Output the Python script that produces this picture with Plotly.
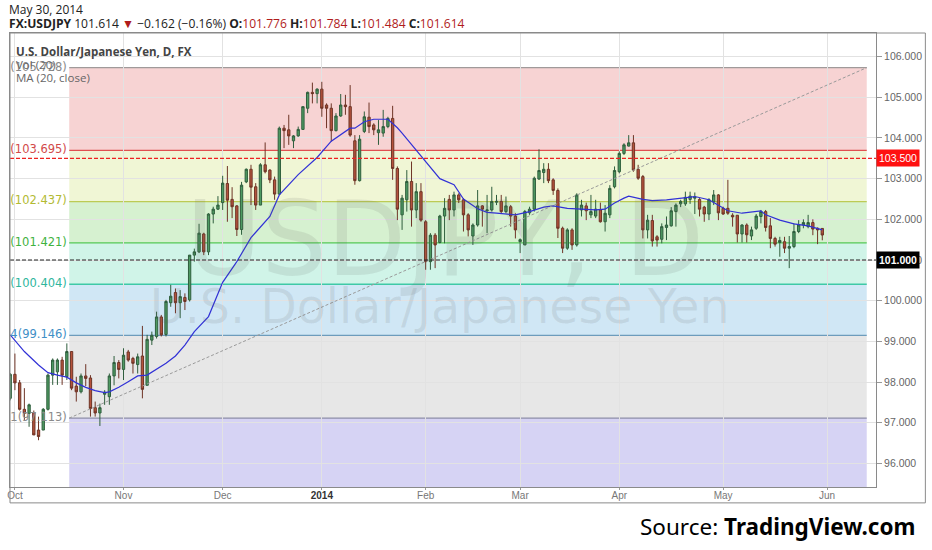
import pandas as pd
import plotly.graph_objects as go

# daily bars, Sep 30 2013 .. May 30 2014 (FX: no bars on Dec 25 / Jan 1)
first_day = "2013-09-30"
last_day = "2014-05-30"
holidays = ["2013-12-25", "2014-01-01"]

opens = [
    # Sep 30 / Oct
    97.60, 98.19, 97.98, 97.33, 97.23, 97.25, 96.82, 96.82, 97.33, 98.17, 98.25, 98.54,
    98.13, 98.75, 97.90, 97.76, 98.15, 98.10, 97.37, 97.24, 97.70, 97.64, 98.15, 98.48,
    # Nov
    98.31, 98.74, 98.58, 98.43, 98.64, 97.92, 99.03, 99.12, 99.60, 99.17, 99.95, 100.20,
    99.95, 100.08, 100.02, 101.12, 101.20, 101.64, 101.20, 102.13, 102.25,
    # Dec
    102.41, 102.88, 102.49, 102.33, 101.75, 102.92, 103.23, 102.80, 102.35, 103.34, 103.21,
    102.97, 102.62, 104.24, 104.20, 103.93, 104.05, 104.21, 104.73, 105.12, 105.09,
    # Jan
    105.20, 104.81, 104.73, 104.18, 104.54, 104.81, 104.77, 103.93, 102.95, 104.16, 104.51,
    104.32, 104.13, 104.12, 104.28, 104.48, 103.25, 102.11, 102.48, 102.93, 102.23, 102.68,
    # Feb
    101.94, 100.96, 101.61, 101.43, 102.08, 102.49, 102.23, 102.60, 102.48, 102.11,
    101.59, 101.86, 102.33, 102.21, 102.23, 102.42, 102.44, 102.19, 102.31, 102.08,
    # Mar
    101.45, 101.37, 102.16, 102.25, 102.99, 103.15, 103.23, 102.97, 102.71, 101.78, 101.29,
    101.74, 101.37, 102.23, 102.33, 102.11, 102.08, 102.23, 101.94, 102.11, 102.80,
    # Apr
    103.17, 103.62, 103.80, 103.88, 103.23, 103.05, 101.74, 101.97, 101.57, 101.51, 101.80,
    101.84, 102.19, 102.38, 102.38, 102.49, 102.52, 102.49, 102.30, 102.13, 102.43, 102.60,
    # May
    102.27, 102.27, 102.10, 102.10, 101.64, 101.86, 101.59, 101.78, 102.07, 102.19, 101.84,
    101.53, 101.43, 101.45, 101.29, 101.33, 101.70, 101.86, 101.82, 101.92, 101.78, 101.776,
]
highs = [
    98.22, 98.70, 98.05, 97.85, 97.47, 97.30, 97.15, 97.36, 98.21, 98.58, 98.58, 98.62,
    98.95, 98.75, 98.13, 98.21, 98.44, 98.17, 97.52, 97.47, 97.80, 98.21, 98.64, 98.54,
    98.83, 98.79, 98.62, 98.70, 99.38, 99.16, 99.24, 99.73, 99.65, 100.02, 100.39, 100.30,
    100.26, 100.18, 101.12, 101.28, 101.89, 101.67, 102.15, 102.31, 102.57,
    103.07, 103.31, 102.79, 102.35, 102.92, 103.25, 103.34, 102.89, 103.38, 103.89, 103.23,
    103.05, 104.28, 104.32, 104.57, 104.07, 104.28, 104.77, 105.14, 105.36, 105.22,
    105.38, 104.85, 104.85, 104.61, 105.08, 105.06, 105.30, 104.07, 104.07, 104.65, 104.87,
    104.36, 104.44, 104.69, 104.52, 104.79, 103.30, 102.60, 103.21, 103.42, 102.89, 102.89,
    101.98, 101.66, 101.66, 102.11, 102.52, 102.60, 102.68, 102.64, 102.52, 102.15,
    101.90, 102.72, 102.35, 102.60, 102.80, 102.60, 102.60, 102.56, 102.35, 102.15,
    101.53, 102.23, 102.31, 103.05, 103.72, 103.38, 103.38, 103.01, 102.76, 101.82, 101.78,
    101.78, 102.64, 102.48, 102.41, 102.60, 102.48, 102.41, 102.35, 102.84, 103.30,
    103.67, 103.87, 104.07, 104.07, 103.34, 103.09, 102.11, 102.11, 101.61, 101.90, 102.07,
    102.30, 102.39, 102.48, 102.68, 102.68, 102.66, 102.52, 102.33, 102.52, 102.72, 102.62,
    102.31, 102.97, 102.15, 102.10, 101.88, 101.90, 101.82, 102.13, 102.23, 102.23, 102.03,
    101.57, 101.57, 101.57, 101.59, 101.90, 101.98, 102.00, 102.11, 102.00, 101.80, 101.784,
]
lows = [
    97.55, 97.80, 97.30, 97.07, 96.90, 96.70, 96.57, 96.82, 97.30, 97.93, 97.93, 97.93,
    98.05, 97.80, 97.52, 97.72, 97.90, 97.15, 97.15, 96.92, 97.44, 97.44, 97.92, 98.09,
    98.05, 98.50, 98.21, 98.21, 97.60, 97.92, 98.91, 99.07, 99.12, 99.12, 99.85, 99.69,
    99.57, 99.77, 99.98, 100.96, 101.17, 101.12, 101.12, 101.90, 102.23,
    102.23, 101.94, 102.03, 101.59, 101.62, 102.89, 102.35, 102.23, 102.35, 103.13, 102.89,
    102.48, 102.60, 103.75, 103.83, 103.75, 104.03, 104.20, 104.61, 104.85, 104.85,
    104.52, 104.24, 103.91, 104.16, 104.52, 104.57, 104.03, 102.85, 102.93, 104.12, 104.12,
    104.07, 103.83, 104.03, 104.24, 102.97, 101.98, 101.74, 102.19, 101.82, 102.03, 101.94,
    100.76, 100.76, 100.80, 101.41, 101.41, 101.98, 102.07, 102.40, 101.70, 101.58,
    101.37, 101.82, 101.82, 101.66, 102.19, 102.35, 102.15, 102.15, 101.82, 101.53,
    101.17, 101.37, 102.11, 102.19, 102.97, 102.89, 102.89, 102.60, 101.54, 101.17, 101.25,
    101.25, 101.33, 102.07, 101.98, 102.03, 102.03, 101.92, 101.70, 102.03, 102.76,
    103.13, 103.58, 103.79, 103.17, 102.97, 101.53, 101.53, 101.33, 101.33, 101.41, 101.49,
    101.82, 101.82, 102.30, 102.33, 102.38, 102.13, 102.07, 101.94, 101.98, 102.35, 101.98,
    102.11, 102.11, 101.82, 101.43, 101.43, 101.43, 101.49, 101.74, 101.90, 101.70, 101.29,
    101.33, 101.08, 101.17, 100.80, 101.29, 101.66, 101.78, 101.78, 101.61, 101.39, 101.484,
]
closes = [
    98.19, 97.98, 97.33, 97.23, 97.44, 96.70, 96.66, 97.33, 98.17, 98.54, 98.54, 98.17,
    98.75, 97.85, 97.76, 98.15, 98.09, 97.35, 97.24, 97.37, 97.75, 98.15, 98.48, 98.31,
    98.66, 98.54, 98.46, 98.62, 97.82, 99.05, 99.15, 99.60, 99.16, 99.98, 100.11, 99.95,
    100.10, 99.98, 101.12, 101.20, 101.66, 101.20, 102.13, 102.25, 102.35,
    102.89, 102.47, 102.31, 101.75, 102.84, 103.23, 102.79, 102.35, 103.34, 103.17, 102.97,
    102.62, 104.24, 104.18, 104.05, 104.05, 104.21, 104.77, 105.12, 105.09, 105.20,
    104.73, 104.73, 104.18, 104.54, 104.81, 104.77, 104.07, 102.95, 103.97, 104.52, 104.28,
    104.20, 104.20, 104.28, 104.48, 103.25, 102.25, 102.52, 102.93, 102.23, 102.68, 101.98,
    100.96, 101.61, 101.37, 102.08, 102.27, 102.23, 102.60, 102.48, 102.11, 101.74,
    101.86, 102.33, 102.25, 102.23, 102.44, 102.44, 102.19, 102.33, 102.08, 101.74,
    101.50, 102.19, 102.25, 103.01, 103.20, 103.23, 102.95, 102.71, 101.78, 101.29, 101.74,
    101.37, 102.60, 102.35, 102.21, 102.19, 102.25, 101.94, 102.15, 102.76, 103.20,
    103.62, 103.83, 103.88, 103.21, 103.01, 101.74, 101.98, 101.47, 101.49, 101.82, 101.86,
    102.21, 102.35, 102.44, 102.54, 102.57, 102.55, 102.25, 102.13, 102.48, 102.60, 102.16,
    102.13, 102.15, 102.06, 101.64, 101.86, 101.62, 101.74, 102.08, 102.19, 101.80, 101.53,
    101.39, 101.48, 101.29, 101.33, 101.70, 101.86, 101.92, 101.92, 101.76, 101.74, 101.614,
]

# MA (20, close)
ma_dates = [
    "2013-09-30", "2013-10-03", "2013-10-08", "2013-10-10", "2013-10-14", "2013-10-16",
    "2013-10-18", "2013-10-22", "2013-10-24", "2013-10-28", "2013-10-29", "2013-10-31",
    "2013-11-04", "2013-11-06", "2013-11-08", "2013-11-12", "2013-11-14", "2013-11-18",
    "2013-11-20", "2013-11-22", "2013-11-27", "2013-12-02", "2013-12-05", "2013-12-10",
    "2013-12-16", "2013-12-18", "2013-12-24", "2013-12-31", "2014-01-06", "2014-01-10",
    "2014-01-13", "2014-01-15", "2014-01-17", "2014-01-22", "2014-01-24", "2014-01-27",
    "2014-01-30", "2014-02-04", "2014-02-06", "2014-02-11", "2014-02-13", "2014-02-18",
    "2014-02-20", "2014-02-24", "2014-02-28", "2014-03-05", "2014-03-10", "2014-03-12",
    "2014-03-17", "2014-03-20", "2014-03-25", "2014-03-27", "2014-03-31", "2014-04-02",
    "2014-04-03", "2014-04-08", "2014-04-10", "2014-04-15", "2014-04-18", "2014-04-23",
    "2014-04-28", "2014-04-30", "2014-05-02", "2014-05-07", "2014-05-13", "2014-05-14",
    "2014-05-19", "2014-05-22", "2014-05-27", "2014-05-30",
]
ma_values = [
    99.16, 98.75, 98.42, 98.23, 98.17, 98.12,
    97.98, 97.87, 97.79, 97.74, 97.76, 97.87,
    98.01, 98.15, 98.17, 98.31, 98.46, 98.64,
    98.91, 99.24, 99.61, 100.45, 100.96, 101.55,
    102.07, 102.60, 103.10, 103.52, 103.92, 104.24,
    104.24, 104.40, 104.46, 104.46, 104.25, 104.12,
    103.71, 103.30, 103.00, 102.85, 102.50, 102.26,
    102.17, 102.15, 102.11, 102.19, 102.30, 102.33,
    102.27, 102.25, 102.23, 102.25, 102.40, 102.52,
    102.57, 102.49, 102.46, 102.48, 102.52, 102.56,
    102.48, 102.35, 102.21, 102.15, 102.21, 102.11,
    101.98, 101.89, 101.84, 101.74,
]

# fibonacci retracement drawn on the chart
fib_start = "2013-10-16 12:00"
fib_end = "2014-06-12 10:00"
fib_label_x = "2013-10-16 00:00"
fib_ratios = ["0", "0.236", "0.382", "0.5", "0.618", "0.764", "1"]
fib_levels = [105.728, 103.695, 102.437, 101.421, 100.404, 99.146, 97.113]
fib_floor = 95.08
fib_line_colors = ["#a09a9a", "#e05050", "#bccb55", "#55c855", "#3fc9a6", "#6d9cbc", "#8d8da8"]
fib_text_colors = ["#8a8a8a", "#d24a4a", "#b2ba33", "#3fb23f", "#2fb69d", "#3f8fc6", "#8a8a8a"]
fib_fills = [
    "rgba(228,110,110,0.30)", "rgba(200,220,100,0.27)", "rgba(120,210,100,0.30)",
    "rgba(100,220,180,0.30)", "rgba(110,180,225,0.32)", "rgba(150,150,150,0.23)",
    "rgba(120,110,220,0.30)",
]

red_level = 103.5
black_level = 101.0

tick_dates = ["2013-10-01", "2013-11-01", "2013-12-02", "2014-01-02", "2014-02-03",
              "2014-03-03", "2014-04-01", "2014-05-01", "2014-06-02"]
tick_text = ["Oct", "Nov", "Dec", "<b><span style='color:#333'>2014</span></b>", "Feb",
             "Mar", "Apr", "May", "Jun"]

dates = [d for d in pd.bdate_range(first_day, last_day) if d.strftime("%Y-%m-%d") not in holidays]

fig = go.Figure()

fig.add_trace(go.Candlestick(
    x=dates, open=opens, high=highs, low=lows, close=closes,
    increasing=dict(fillcolor="#4e9a62", line=dict(color="#2f5e3d", width=1)),
    decreasing=dict(fillcolor="#b5533c", line=dict(color="#6e3426", width=1)),
    whiskerwidth=0, hoverinfo="skip", showlegend=False,
))

fig.add_trace(go.Scatter(
    x=ma_dates, y=ma_values, mode="lines",
    line=dict(color="#3131d6", width=1.2), hoverinfo="skip", showlegend=False,
))

# fib level labels, clipped by the plot's left edge
fig.add_trace(go.Scatter(
    x=[fib_label_x] * len(fib_levels), y=fib_levels, mode="text",
    text=[f"{r}({v:.3f})" for r, v in zip(fib_ratios, fib_levels)],
    textposition="middle left",
    textfont=dict(family="DejaVu Sans", size=11.5, color=fib_text_colors),
    cliponaxis=True, hoverinfo="skip", showlegend=False,
))

shapes = []
bands = fib_levels + [fib_floor]
for i in range(len(fib_levels)):
    shapes.append(dict(type="rect", xref="x", yref="y", x0=fib_start, x1=fib_end,
                       y0=bands[i + 1], y1=bands[i], fillcolor=fib_fills[i],
                       line=dict(width=0), layer="below"))
for lvl, col in zip(fib_levels, fib_line_colors):
    shapes.append(dict(type="line", xref="x", yref="y", x0=fib_start, x1=fib_end,
                       y0=lvl, y1=lvl, line=dict(color=col, width=1.3), layer="below"))
# trend line of the fib
shapes.append(dict(type="line", xref="x", yref="y", x0=fib_start, x1=fib_end,
                   y0=fib_levels[-1], y1=fib_levels[0],
                   line=dict(color="#9a9a9a", width=1, dash="3px,2px")))
# horizontal alert lines
shapes.append(dict(type="line", xref="paper", yref="y", x0=0, x1=1, y0=red_level, y1=red_level,
                   line=dict(color="#ee2222", width=1.2, dash="4px,2px")))
shapes.append(dict(type="line", xref="paper", yref="y", x0=0, x1=1, y0=black_level, y1=black_level,
                   line=dict(color="#222222", width=1.2, dash="4px,2px")))
# outer frame around chart + axes
shapes.append(dict(type="rect", xref="paper", yref="paper", x0=0, x1=1.057, y0=-0.035, y1=1,
                   line=dict(color="#8a8a8a", width=1), fillcolor="rgba(0,0,0,0)"))

annotations = [
    # watermark
    dict(text="USDJPY, D", xref="paper", yref="paper", x=0.502, y=0.546, showarrow=False,
         font=dict(family="DejaVu Sans", size=103, color="rgba(90,90,90,0.12)")),
    dict(text="U.S. Dollar/Japanese Yen", xref="paper", yref="paper", x=0.496, y=0.397,
         showarrow=False, font=dict(family="DejaVu Sans", size=47.5, color="rgba(90,90,90,0.12)")),
    # pane legend
    dict(text="<b>U.S. Dollar/Japanese Yen, D, FX</b>", xref="paper", yref="paper",
         x=0.008, y=0.959, xanchor="left", yanchor="middle", xshift=-3, showarrow=False,
         font=dict(family="Open Sans", size=11.5, color="#444")),
    dict(text="Vol (20)", xref="paper", yref="paper", x=0.008, y=0.930, xanchor="left",
         yanchor="middle", xshift=-3, showarrow=False,
         font=dict(family="Open Sans", size=11.5, color="#666")),
    dict(text="MA (20, close)", xref="paper", yref="paper", x=0.008, y=0.901, xanchor="left",
         yanchor="middle", xshift=-3, showarrow=False,
         font=dict(family="Open Sans", size=11.5, color="#666")),
    # header
    dict(text="May 30, 2014", xref="paper", yref="paper", x=0, y=1.051, xanchor="left",
         yanchor="middle", xshift=-3, showarrow=False,
         font=dict(family="Open Sans", size=12, color="#222")),
    dict(text="<b>FX:USDJPY</b> 101.614 <span style='color:#b01c1c'>▼</span> −0.162 (−0.16%) "
              "<b>O:</b><span style='color:#b01c1c'>101.776</span> "
              "<b>H:</b><span style='color:#b01c1c'>101.784</span> "
              "<b>L:</b><span style='color:#b01c1c'>101.484</span> "
              "<b>C:</b><span style='color:#b01c1c'>101.614</span>",
         xref="paper", yref="paper", x=0, y=1.022, xanchor="left", yanchor="middle",
         xshift=-3, showarrow=False, font=dict(family="Open Sans", size=12.1, color="#222")),
    # price labels on the axis
    dict(text="103.500", xref="paper", yref="y", x=1, y=red_level, xanchor="left", xshift=0,
         showarrow=False, bgcolor="#ff1010", borderpad=2,
         font=dict(family="Liberation Sans", size=10.5, color="white")),
    dict(text="<b>101.000</b>", xref="paper", yref="y", x=1, y=black_level, xanchor="left",
         xshift=0, showarrow=False, bgcolor="#000000", borderpad=2,
         font=dict(family="Liberation Sans", size=10.5, color="white")),
    # source
    dict(text="Source: <b>TradingView.com</b>", xref="paper", yref="paper", x=1.047, y=-0.088,
         xanchor="right", yanchor="middle", showarrow=False,
         font=dict(family="Noto Sans", size=22.5, color="#000")),
]

fig.update_layout(
    width=932, height=550,
    margin=dict(l=7, r=56, t=33, b=63),
    paper_bgcolor="white", plot_bgcolor="white",
    shapes=shapes, annotations=annotations,
    showlegend=False, hovermode=False,
    xaxis=dict(
        type="date",
        range=["2013-09-27 23:00", "2014-06-16 09:00"],
        rangebreaks=[dict(bounds=["sat", "mon"]), dict(values=holidays)],
        rangeslider=dict(visible=False),
        tickvals=tick_dates, ticktext=tick_text,
        ticks="outside", ticklen=2, tickcolor="#999",
        ticklabeloverflow="allow", ticklabelstandoff=-3,
        tickfont=dict(family="Liberation Sans", size=10, color="#777"),
        showgrid=True, gridcolor="#e2e2e2", gridwidth=1,
        showline=True, linecolor="#8a8a8a", mirror=True, zeroline=False,
    ),
    yaxis=dict(
        side="right",
        range=[95.42, 106.58],
        tickvals=[96, 97, 98, 99, 100, 101, 102, 103, 104, 105, 106],
        tickformat=".3f",
        ticks="outside", ticklen=5, tickcolor="#999",
        tickfont=dict(family="Liberation Sans", size=10.5, color="#666"),
        showgrid=True, gridcolor="#e2e2e2", gridwidth=1,
        showline=True, linecolor="#8a8a8a", mirror=True, zeroline=False,
    ),
)

# drop the page's default body margin so the figure sits at the window's corner
fig.write_html("out.html", config={"displayModeBar": False},
               post_script="document.body.style.margin = '0px';")
